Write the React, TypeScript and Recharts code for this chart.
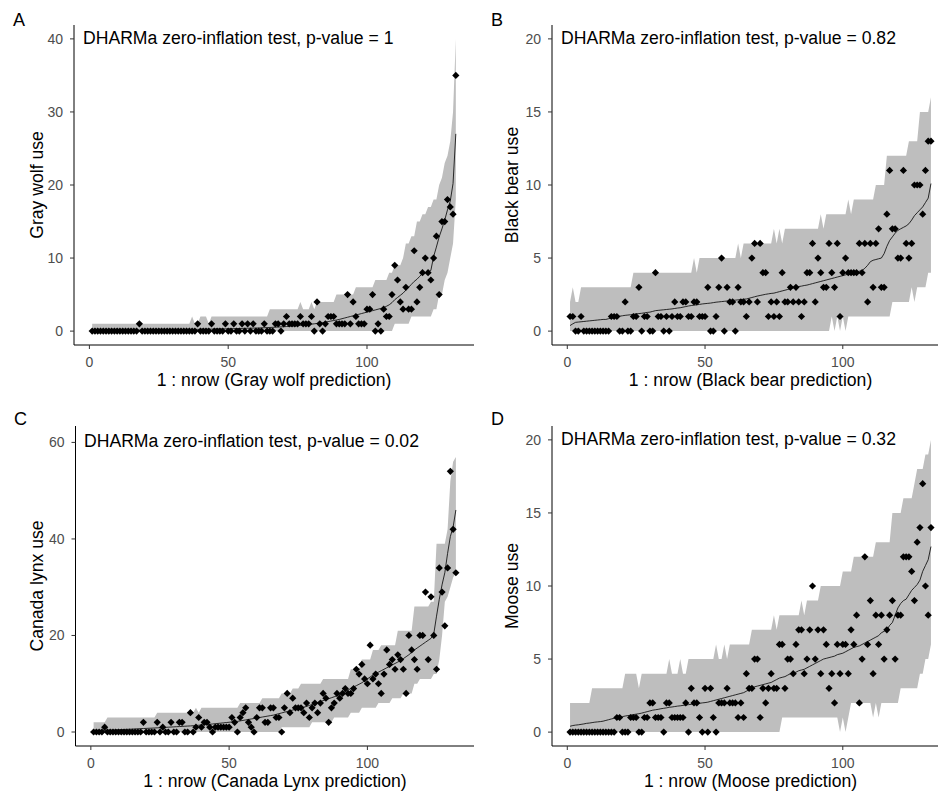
import { ComposedChart, Area, Line, Scatter, XAxis, YAxis } from 'recharts'

const FONT = "'Liberation Sans', Arial, Helvetica, sans-serif"

// x is the row index (1 : nrow), 132 rows in every panel
const rowIndex = Array.from({ length: 132 }, (_, i) => i + 1)
const xTicks = [0, 50, 100]

// A - gray wolf
const wolfObs = [
  0, 0, 0, 0, 0, 0, 0, 0, 0, 0, 0, 0,
  0, 0, 0, 0, 0, 1, 0, 0, 0, 0, 0, 0,
  0, 0, 0, 0, 0, 0, 0, 0, 0, 0, 0, 0,
  0, 0, 1, 0, 0, 0, 0, 1, 0, 0, 0, 0,
  1, 0, 0, 1, 0, 0, 1, 0, 1, 0, 1, 0,
  0, 0, 1, 0, 0, 0, 1, 1, 0, 1, 2, 1,
  1, 1, 1, 2, 1, 1, 1, 2, 0, 4, 1, 0,
  1, 2, 2, 2, 1, 1, 1, 1, 5, 1, 4, 2,
  1, 1, 1, 3, 3, 5, 0, 1, 0, 3, 2, 2,
  5, 9, 7, 4, 3, 6, 3, 3, 11, 4, 6, 8,
  10, 8, 7, 10, 13, 5, 15, 15, 18, 17, 16, 35,
]
const wolfLow = [
  0, 0, 0, 0, 0, 0, 0, 0, 0, 0, 0, 0,
  0, 0, 0, 0, 0, 0, 0, 0, 0, 0, 0, 0,
  0, 0, 0, 0, 0, 0, 0, 0, 0, 0, 0, 0,
  0, 0, 0, 0, 0, 0, 0, 0, 0, 0, 0, 0,
  0, 0, 0, 0, 0, 0, 0, 0, 0, 0, 0, 0,
  0, 0, 0, 0, 0, 0, 0, 0, 0, 0, 0, 0,
  0, 0, 0, 0, 0, 0, 0, 0, 0, 0, 0, 0,
  0, 0, 0, 0, 0, 0, 0, 0, 0, 0, 0, 0,
  0, 0, 0, 0, 0, 0, 0, 0, 0, 0, 0, 0,
  0, 1, 1, 1, 1, 1, 1, 2, 2, 2, 2, 2,
  2, 2, 2, 3, 3, 5, 5, 7, 8, 10, 12, 18,
]
const wolfHigh = [
  1, 1, 1, 1, 1, 1, 1, 1, 1, 1, 1, 1,
  1, 1, 1, 1, 1, 1, 1, 1, 1, 1, 1, 1,
  1, 1, 1, 1, 1, 1, 1, 1, 1, 1, 1, 1,
  2, 1, 1, 2, 2, 2, 1, 2, 2, 2, 2, 2,
  2, 2, 2, 2, 2, 2, 2, 2, 2, 2, 2, 2,
  2, 2, 2, 2, 3, 3, 3, 3, 3, 3, 3, 3,
  3, 3, 3, 4, 3, 3, 3, 4, 3, 4, 4, 4,
  4, 4, 4, 4, 5, 5, 5, 5, 5, 5, 5, 6,
  6, 6, 6, 6, 6, 6, 7, 7, 7, 7, 7, 8,
  8, 9, 9, 9, 10, 12, 12, 13, 13, 15, 15, 16,
  16, 17, 17, 18, 18, 20, 21, 23, 24, 26, 30, 40,
]
const wolfMean = [
  0.05, 0.06, 0.07, 0.07, 0.08, 0.08, 0.09, 0.09, 0.1, 0.1, 0.1, 0.11,
  0.11, 0.12, 0.12, 0.12, 0.13, 0.13, 0.14, 0.14, 0.15, 0.15, 0.15, 0.16,
  0.16, 0.17, 0.17, 0.18, 0.18, 0.19, 0.19, 0.2, 0.2, 0.21, 0.21, 0.22,
  0.22, 0.23, 0.24, 0.24, 0.25, 0.26, 0.26, 0.27, 0.28, 0.29, 0.29, 0.3,
  0.31, 0.32, 0.33, 0.34, 0.35, 0.36, 0.37, 0.38, 0.39, 0.4, 0.41, 0.42,
  0.43, 0.45, 0.46, 0.48, 0.5, 0.52, 0.54, 0.56, 0.58, 0.6, 0.63, 0.66,
  0.69, 0.72, 0.75, 0.78, 0.82, 0.86, 0.9, 0.95, 1.0, 1.05, 1.1, 1.16,
  1.22, 1.3, 1.38, 1.45, 1.52, 1.6, 1.7, 1.8, 1.9, 2.0, 2.1, 2.2,
  2.3, 2.4, 2.5, 2.6, 2.7, 2.8, 2.9, 3.0, 3.1, 3.2, 3.4, 3.6,
  3.9, 4.3, 4.6, 4.9, 5.2, 5.6, 6.0, 6.4, 6.8, 7.1, 7.5, 7.9,
  8.0, 8.1, 8.3, 10.2, 11.5, 12.9, 14.0, 15.2, 16.6, 17.8, 20.2, 27.0,
]

// B - black bear
const bearObs = [
  1, 1, 0, 0, 1, 0, 0, 0, 0, 0, 0, 0,
  0, 0, 0, 1, 1, 1, 0, 0, 2, 0, 0, 1,
  1, 3, 0, 1, 1, 0, 0, 4, 1, 1, 0, 1,
  0, 1, 2, 1, 1, 2, 2, 1, 1, 2, 2, 1,
  1, 1, 3, 0, 0, 1, 3, 5, 0, 3, 2, 2,
  0, 3, 2, 2, 1, 2, 5, 6, 2, 6, 4, 4,
  1, 2, 1, 2, 1, 4, 2, 2, 3, 2, 3, 2,
  1, 2, 4, 4, 6, 2, 5, 4, 3, 3, 6, 4,
  3, 6, 1, 4, 5, 4, 4, 4, 4, 6, 4, 6,
  2, 6, 3, 6, 7, 3, 3, 8, 11, 7, 7, 5,
  5, 11, 6, 5, 6, 10, 10, 10, 8, 11, 13, 13,
]
const bearLow = [
  0, 0, 0, 0, 0, 0, 0, 0, 0, 0, 0, 0,
  0, 0, 0, 0, 0, 0, 0, 0, 0, 0, 0, 0,
  0, 0, 0, 0, 0, 0, 0, 0, 0, 0, 0, 0,
  0, 0, 0, 0, 0, 0, 0, 0, 0, 0, 0, 0,
  0, 0, 0, 0, 0, 0, 0, 0, 0, 0, 0, 0,
  0, 0, 0, 0, 0, 0, 0, 0, 0, 0, 0, 0,
  0, 0, 0, 0, 0, 0, 0, 0, 0, 0, 0, 0,
  0, 0, 0, 0, 0, 0, 0, 0, 0, 0, 0, 1,
  0, 1, 0, 1, 0, 1, 1, 1, 1, 1, 1, 1,
  1, 1, 1, 1, 1, 1, 1, 1, 1, 2, 2, 2,
  2, 2, 2, 2, 3, 2, 3, 3, 3, 3, 4, 4,
]
const bearHigh = [
  2, 3, 2, 2, 3, 3, 3, 3, 3, 3, 3, 3,
  3, 3, 3, 3, 3, 3, 3, 3, 3, 3, 3, 4,
  4, 4, 4, 4, 4, 4, 4, 4, 4, 4, 4, 4,
  4, 4, 4, 4, 4, 4, 4, 4, 4, 5, 4, 5,
  5, 5, 5, 5, 5, 5, 5, 5, 5, 5, 5, 5,
  5, 6, 5, 6, 6, 6, 6, 6, 6, 6, 6, 6,
  6, 6, 7, 6, 7, 6, 7, 7, 7, 7, 7, 7,
  7, 7, 7, 7, 7, 7, 7, 8, 7, 8, 8, 8,
  8, 8, 8, 8, 8, 9, 8, 9, 9, 9, 9, 9,
  9, 9, 9, 10, 10, 10, 10, 12, 12, 12, 12, 12,
  12, 12, 12, 13, 13, 13, 13, 15, 15, 15, 15, 16,
]
const bearMean = [
  0.38, 0.5, 0.6, 0.62, 0.64, 0.66, 0.68, 0.7, 0.72, 0.74, 0.76, 0.78,
  0.8, 0.8, 0.85, 0.9, 0.95, 1.0, 1.02, 1.05, 1.08, 1.1, 1.12, 1.15,
  1.18, 1.2, 1.22, 1.25, 1.28, 1.3, 1.35, 1.4, 1.42, 1.44, 1.46, 1.48,
  1.5, 1.52, 1.55, 1.58, 1.6, 1.64, 1.68, 1.72, 1.75, 1.78, 1.8, 1.83,
  1.86, 1.88, 1.9, 1.92, 1.95, 1.98, 2.0, 2.02, 2.04, 2.06, 2.08, 2.1,
  2.12, 2.14, 2.16, 2.18, 2.2, 2.25, 2.3, 2.35, 2.4, 2.44, 2.48, 2.52,
  2.55, 2.58, 2.6, 2.65, 2.7, 2.75, 2.8, 2.85, 2.9, 2.95, 3.0, 3.05,
  3.08, 3.12, 3.15, 3.2, 3.25, 3.3, 3.35, 3.4, 3.45, 3.5, 3.55, 3.6,
  3.65, 3.7, 3.75, 3.8, 3.85, 3.9, 3.95, 4.0, 4.05, 4.1, 4.15, 4.3,
  4.5, 4.75, 4.85, 4.9, 4.95, 5.0, 5.3, 5.8, 6.2, 6.45, 6.7, 6.9,
  7.0, 7.1, 7.2, 7.35, 7.6, 7.9, 8.1, 8.3, 8.5, 8.8, 9.1, 10.1,
]

// C - Canada lynx
const lynxObs = [
  0, 0, 0, 0, 1, 0, 0, 0, 0, 0, 0, 0,
  0, 0, 0, 0, 0, 0, 2, 0, 0, 0, 0, 2,
  0, 1, 0, 0, 2, 0, 0, 2, 2, 0, 0, 4,
  0, 1, 3, 1, 2, 2, 1, 0, 1, 1, 1, 1,
  1, 1, 3, 2, 0, 3, 4, 5, 2, 1, 0, 3,
  5, 5, 2, 2, 5, 5, 3, 3, 0, 5, 8, 4,
  7, 5, 5, 5, 4, 6, 3, 5, 6, 4, 6, 8,
  7, 2, 5, 6, 8, 7, 8, 9, 8, 8, 9, 13,
  12, 14, 11, 10, 18, 11, 12, 10, 8, 12, 17, 14,
  15, 13, 16, 15, 13, 8, 20, 17, 15, 13, 20, 20,
  29, 15, 28, 20, 13, 34, 29, 22, 34, 54, 42, 33,
]
const lynxLow = [
  0, 0, 0, 0, 0, 0, 0, 0, 0, 0, 0, 0,
  0, 0, 0, 0, 0, 0, 0, 0, 0, 0, 0, 0,
  0, 0, 0, 0, 0, 0, 0, 0, 0, 0, 0, 0,
  0, 0, 0, 0, 0, 0, 0, 0, 0, 0, 0, 0,
  0, 0, 0, 0, 0, 0, 0, 0, 0, 0, 0, 0,
  0, 0, 0, 0, 0, 0, 0, 0, 1, 1, 1, 1,
  1, 1, 1, 1, 1, 1, 1, 2, 2, 2, 2, 2,
  2, 2, 2, 3, 3, 3, 3, 3, 3, 4, 4, 4,
  4, 5, 5, 5, 5, 5, 5, 6, 6, 6, 6, 6,
  7, 7, 7, 7, 8, 8, 8, 8, 10, 10, 11, 11,
  11, 11, 11, 12, 12, 15, 20, 27, 28, 30, 32, 33,
]
const lynxHigh = [
  2, 2, 2, 2, 2, 3, 3, 3, 3, 3, 3, 3,
  3, 3, 3, 3, 3, 3, 3, 3, 3, 3, 3, 4,
  4, 4, 4, 4, 4, 4, 4, 4, 4, 4, 4, 4,
  4, 5, 4, 5, 5, 5, 5, 5, 5, 5, 5, 5,
  5, 5, 5, 5, 5, 6, 6, 6, 6, 6, 6, 6,
  6, 7, 7, 7, 7, 7, 7, 7, 8, 8, 8, 8,
  9, 9, 9, 10, 10, 10, 10, 10, 10, 10, 10, 11,
  11, 11, 11, 11, 11, 11, 11, 11, 11, 13, 13, 13,
  13, 15, 15, 15, 15, 17, 17, 17, 18, 18, 18, 18,
  18, 18, 21, 21, 21, 21, 21, 21, 26, 26, 26, 26,
  26, 26, 27, 27, 39, 39, 39, 39, 42, 52, 56, 57,
]
const lynxMean = [
  0.1, 0.15, 0.2, 0.25, 0.3, 0.33, 0.36, 0.4, 0.43, 0.46, 0.5, 0.52,
  0.55, 0.58, 0.6, 0.63, 0.66, 0.7, 0.72, 0.75, 0.78, 0.8, 0.83, 0.86,
  0.9, 0.93, 0.96, 1.0, 1.03, 1.06, 1.1, 1.13, 1.16, 1.2, 1.23, 1.26,
  1.3, 1.35, 1.4, 1.45, 1.5, 1.55, 1.6, 1.66, 1.72, 1.78, 1.84, 1.9,
  1.96, 2.02, 2.08, 2.14, 2.2, 2.3, 2.4, 2.5, 2.6, 2.7, 2.8, 2.9,
  3.0, 3.1, 3.2, 3.3, 3.4, 3.5, 3.65, 3.8, 3.95, 4.1, 4.25, 4.4,
  4.55, 4.7, 4.85, 5.0, 5.15, 5.3, 5.5, 5.7, 5.9, 6.1, 6.3, 6.5,
  6.7, 6.9, 7.1, 7.3, 7.5, 7.8, 8.1, 8.4, 8.7, 9.0, 9.3, 9.6,
  9.9, 10.2, 10.6, 11.0, 11.4, 11.8, 12.1, 12.4, 12.7, 13.0, 13.3, 13.6,
  13.9, 14.2, 14.5, 14.8, 15.2, 15.6, 16.0, 16.5, 17.0, 17.4, 17.8, 18.2,
  18.6, 19.0, 19.4, 20.3, 24.0, 27.5, 30.5, 33.0, 37.0, 40.5, 42.5, 46.0,
]

// D - moose
const mooseObs = [
  0, 0, 0, 0, 0, 0, 0, 0, 0, 0, 0, 0,
  0, 0, 0, 0, 0, 1, 1, 0, 0, 0, 1, 1,
  1, 0, 0, 1, 1, 2, 2, 1, 1, 1, 0, 2,
  2, 1, 1, 1, 1, 1, 2, 0, 3, 2, 2, 1,
  0, 3, 0, 3, 1, 0, 2, 2, 2, 3, 2, 2,
  2, 1, 2, 1, 4, 3, 3, 5, 5, 1, 3, 2,
  3, 4, 3, 3, 6, 6, 3, 5, 5, 4, 6, 7,
  7, 4, 5, 7, 10, 5, 7, 4, 7, 6, 3, 4,
  2, 6, 4, 6, 6, 4, 7, 6, 8, 2, 5, 12,
  6, 9, 4, 8, 6, 8, 5, 7, 8, 9, 5, 8,
  8, 12, 12, 12, 11, 9, 13, 14, 17, 10, 8, 14,
]
const mooseLow = [
  0, 0, 0, 0, 0, 0, 0, 0, 0, 0, 0, 0,
  0, 0, 0, 0, 0, 0, 0, 0, 0, 0, 0, 0,
  0, 0, 0, 0, 0, 0, 0, 0, 0, 0, 0, 0,
  0, 0, 0, 0, 0, 0, 0, 0, 0, 0, 0, 0,
  0, 0, 0, 0, 0, 0, 0, 0, 0, 0, 0, 0,
  0, 0, 0, 0, 0, 0, 0, 0, 0, 0, 0, 0,
  0, 0, 0, 0, 0, 1, 1, 1, 1, 1, 1, 1,
  1, 1, 1, 1, 1, 1, 1, 1, 1, 1, 1, 1,
  1, 1, 0, 1, 0, 1, 2, 2, 2, 2, 2, 2,
  2, 2, 1, 2, 1, 2, 2, 2, 2, 2, 2, 2,
  3, 3, 3, 3, 3, 3, 3, 4, 4, 5, 5, 6,
]
const mooseHigh = [
  2, 2, 2, 2, 2, 2, 2, 2, 3, 3, 3, 3,
  3, 3, 3, 3, 3, 3, 3, 3, 4, 4, 4, 4,
  4, 3, 4, 4, 4, 4, 4, 4, 4, 4, 4, 4,
  5, 4, 4, 4, 5, 4, 4, 5, 5, 5, 5, 5,
  5, 5, 5, 5, 5, 6, 5, 5, 6, 5, 6, 6,
  6, 6, 6, 6, 6, 6, 7, 7, 7, 7, 7, 7,
  7, 7, 8, 7, 8, 8, 8, 8, 8, 8, 8, 8,
  9, 8, 9, 9, 9, 9, 9, 10, 10, 10, 10, 10,
  10, 10, 10, 11, 11, 11, 11, 12, 12, 12, 12, 12,
  12, 12, 12, 13, 13, 13, 13, 13, 13, 15, 15, 15,
  15, 16, 16, 16, 16, 17, 18, 18, 18, 19, 19, 20,
]
const mooseMean = [
  0.4, 0.45, 0.48, 0.5, 0.53, 0.56, 0.6, 0.62, 0.65, 0.68, 0.7, 0.72,
  0.75, 0.8, 0.85, 0.9, 0.95, 1.0, 1.03, 1.06, 1.1, 1.13, 1.16, 1.2,
  1.23, 1.26, 1.3, 1.35, 1.4, 1.45, 1.5, 1.53, 1.56, 1.6, 1.63, 1.66,
  1.7, 1.72, 1.75, 1.78, 1.8, 1.83, 1.86, 1.88, 1.9, 1.92, 1.95, 1.97,
  2.0, 2.02, 2.05, 2.1, 2.15, 2.2, 2.25, 2.3, 2.35, 2.4, 2.45, 2.5,
  2.55, 2.6, 2.65, 2.7, 2.8, 2.9, 3.0, 3.1, 3.15, 3.2, 3.25, 3.3,
  3.35, 3.4, 3.5, 3.6, 3.7, 3.75, 3.8, 3.9, 4.0, 4.05, 4.1, 4.2,
  4.25, 4.3, 4.4, 4.5, 4.6, 4.7, 4.8, 4.9, 5.0, 5.05, 5.1, 5.15,
  5.2, 5.3, 5.35, 5.4, 5.5, 5.6, 5.7, 5.8, 5.85, 5.9, 6.0, 6.1,
  6.2, 6.3, 6.4, 6.5, 6.6, 6.8, 6.9, 7.0, 7.3, 7.5, 8.0, 8.5,
  8.8, 9.0, 9.1, 9.4, 9.7, 9.9, 10.1, 10.4, 11.0, 11.4, 11.8, 12.7,
]

const Diamond = (props: any) => {
  const { cx, cy } = props
  if (cx == null || cy == null) return null
  const r = 3.6
  return <path d={`M${cx},${cy - r}L${cx + r},${cy}L${cx},${cy + r}L${cx - r},${cy}Z`} fill="#000" />
}

type PanelProps = {
  left: number
  top: number
  width: number
  marginLeft: number
  yDomain: [number, number]
  yTicks: number[]
  obs: number[]
  low: number[]
  high: number[]
  mean: number[]
}

const Panel = ({ left, top, width, marginLeft, yDomain, yTicks, obs, low, high, mean }: PanelProps) => {
  const data = rowIndex.map((x, i) => ({ x, obs: obs[i], band: [low[i], high[i]], mean: mean[i] }))
  const tickStyle = { fill: '#4D4D4D', fontSize: 14, fontFamily: FONT }

  return (
    <div style={{ position: 'absolute', left, top, width, height: 396 }}>
      <ComposedChart width={width} height={396} data={data} margin={{ top: 25, right: 0, bottom: 21, left: marginLeft }}>
        <XAxis
          dataKey="x"
          type="number"
          domain={[-5.55, 138.55]}
          allowDataOverflow
          ticks={xTicks}
          tick={tickStyle}
          tickSize={4}
          tickMargin={8}
          height={30}
          axisLine={{ stroke: '#000', strokeWidth: 1 }}
          tickLine={{ stroke: '#333' }}
        />
        <YAxis
          type="number"
          domain={yDomain}
          allowDataOverflow
          ticks={yTicks}
          tick={tickStyle}
          tickSize={4}
          tickMargin={7}
          width={40}
          axisLine={{ stroke: '#000', strokeWidth: 1 }}
          tickLine={{ stroke: '#333' }}
        />
        <Area dataKey="band" type="linear" fill="#BEBEBE" fillOpacity={1} stroke="none" isAnimationActive={false} />
        <Line dataKey="mean" type="linear" stroke="#000" strokeWidth={0.8} dot={false} isAnimationActive={false} />
        <Scatter dataKey="obs" shape={<Diamond />} isAnimationActive={false} />
      </ComposedChart>
    </div>
  )
}

const textBase = { position: 'absolute' as const, fontFamily: FONT, color: '#000', lineHeight: 1, whiteSpace: 'nowrap' as const }

const Letter = ({ x, y, text }: { x: number; y: number; text: string }) => (
  <div style={{ ...textBase, left: x, top: y, fontSize: 18 }}>{text}</div>
)

const Note = ({ x, y, text }: { x: number; y: number; text: string }) => (
  <div style={{ ...textBase, left: x, top: y, fontSize: 17.6, transform: 'translateY(-50%)' }}>{text}</div>
)

const XTitle = ({ x, y, text }: { x: number; y: number; text: string }) => (
  <div style={{ ...textBase, left: x, top: y, fontSize: 17.6, transform: 'translate(-50%, -50%)' }}>{text}</div>
)

const YTitle = ({ x, y, text }: { x: number; y: number; text: string }) => (
  <div style={{ ...textBase, left: x, top: y, fontSize: 17.6, transform: 'translate(-50%, -50%) rotate(-90deg)' }}>
    {text}
  </div>
)

export default function App() {
  return (
    <div style={{ position: 'absolute', left: 0, top: 0, width: 938, height: 793, overflow: 'hidden', background: '#fff' }}>
      <Panel left={0} top={0} width={474} marginLeft={34} yDomain={[-1.9, 41.9]} yTicks={[0, 10, 20, 30, 40]}
        obs={wolfObs} low={wolfLow} high={wolfHigh} mean={wolfMean} />
      <Panel left={469} top={0} width={480} marginLeft={43} yDomain={[-0.95, 20.95]} yTicks={[0, 5, 10, 15, 20]}
        obs={bearObs} low={bearLow} high={bearHigh} mean={bearMean} />
      <Panel left={0} top={401} width={474} marginLeft={35.5} yDomain={[-2.9, 63.4]} yTicks={[0, 20, 40, 60]}
        obs={lynxObs} low={lynxLow} high={lynxHigh} mean={lynxMean} />
      <Panel left={469} top={401} width={480} marginLeft={43} yDomain={[-0.95, 20.95]} yTicks={[0, 5, 10, 15, 20]}
        obs={mooseObs} low={mooseLow} high={mooseHigh} mean={mooseMean} />

      <Letter x={13} y={10.7} text="A" />
      <Letter x={491} y={10.7} text="B" />
      <Letter x={14} y={409.7} text="C" />
      <Letter x={491} y={409.7} text="D" />

      <Note x={83} y={39} text="DHARMa zero-inflation test, p-value = 1" />
      <Note x={561} y={39} text="DHARMa zero-inflation test, p-value = 0.82" />
      <Note x={84} y={442} text="DHARMa zero-inflation test, p-value = 0.02" />
      <Note x={561} y={440} text="DHARMa zero-inflation test, p-value = 0.32" />

      <XTitle x={274} y={381} text="1 : nrow (Gray wolf prediction)" />
      <XTitle x={750.5} y={381} text="1 : nrow (Black bear prediction)" />
      <XTitle x={275} y={782} text="1 : nrow (Canada Lynx prediction)" />
      <XTitle x={750.5} y={782} text="1 : nrow (Moose prediction)" />

      <YTitle x={38} y={185} text="Gray wolf use" />
      <YTitle x={512.5} y={185} text="Black bear use" />
      <YTitle x={38} y={586} text="Canada lynx use" />
      <YTitle x={512.5} y={586} text="Moose use" />
    </div>
  )
}
